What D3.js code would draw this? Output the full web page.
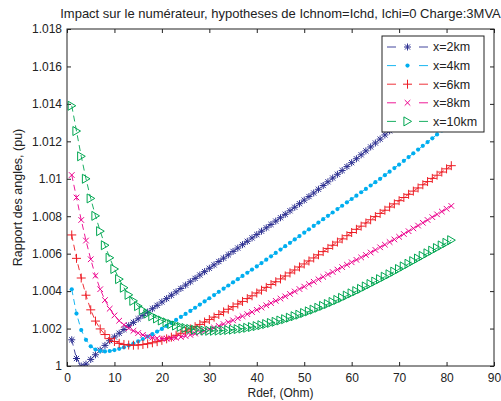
<!DOCTYPE html>
<html><head><meta charset="utf-8">
<script src="https://cdn.jsdelivr.net/npm/d3@7"></script>
<style>body{margin:0;background:#fff} text{font-family:"Liberation Sans",Arial,sans-serif}</style>
</head><body><svg id="c" width="501" height="401"></svg>
<script>
const rdef = [1,2,3,4,5,6,7,8,9,10,11,12,13,14,15,16,17,18,19,20,21,22,23,24,25,26,27,28,29,30,31,32,33,34,35,36,37,38,39,40,41,42,43,44,45,46,47,48,49,50,51,52,53,54,55,56,57,58,59,60,61,62,63,64,65,66,67,68,69,70,71,72,73,74,75,76,77,78,79,80,81];
const x2km = [1.00140,1.00040,1.00000,1.00010,1.00035,1.00060,1.00085,1.00110,1.00135,1.00155,1.00175,1.00195,1.00215,1.00233,1.00252,1.00270,1.00288,1.00306,1.00324,1.00342,1.00360,1.00378,1.00396,1.00414,1.00432,1.00450,1.00468,1.00486,1.00504,1.00522,1.00540,1.00558,1.00576,1.00594,1.00612,1.00630,1.00648,1.00666,1.00684,1.00702,1.00720,1.00738,1.00756,1.00774,1.00792,1.00810,1.00829,1.00848,1.00867,1.00886,1.00905,1.00924,1.00944,1.00964,1.00984,1.01004,1.01024,1.01044,1.01065,1.01086,1.01107,1.01128,1.01149,1.01170,1.01191,1.01212,1.01234,1.01256,1.01278,1.01300,1.01322,1.01344,1.01366,1.01388,1.01410,1.01432,1.01454,1.01476,1.01498,1.01520,1.01542];
const x4km = [1.00410,1.00280,1.00192,1.00140,1.00105,1.00088,1.00080,1.00078,1.00080,1.00085,1.00092,1.00100,1.00110,1.00120,1.00132,1.00144,1.00157,1.00170,1.00184,1.00198,1.00214,1.00230,1.00246,1.00262,1.00278,1.00294,1.00311,1.00328,1.00345,1.00362,1.00379,1.00396,1.00413,1.00430,1.00447,1.00464,1.00481,1.00498,1.00515,1.00532,1.00550,1.00568,1.00586,1.00604,1.00622,1.00640,1.00658,1.00676,1.00694,1.00712,1.00730,1.00748,1.00766,1.00784,1.00802,1.00820,1.00838,1.00856,1.00874,1.00892,1.00910,1.00928,1.00946,1.00964,1.00982,1.01000,1.01019,1.01038,1.01057,1.01076,1.01096,1.01116,1.01136,1.01156,1.01176,1.01196,1.01216,1.01237,1.01258,1.01279,1.01300];
const x6km = [1.00700,1.00575,1.00470,1.00378,1.00300,1.00240,1.00198,1.00168,1.00146,1.00131,1.00121,1.00115,1.00112,1.00111,1.00112,1.00115,1.00119,1.00124,1.00130,1.00137,1.00145,1.00154,1.00164,1.00175,1.00186,1.00198,1.00210,1.00222,1.00235,1.00248,1.00261,1.00275,1.00289,1.00303,1.00317,1.00331,1.00345,1.00360,1.00375,1.00390,1.00405,1.00420,1.00435,1.00450,1.00465,1.00481,1.00497,1.00513,1.00529,1.00545,1.00561,1.00577,1.00594,1.00611,1.00628,1.00645,1.00662,1.00679,1.00696,1.00713,1.00730,1.00747,1.00764,1.00781,1.00798,1.00815,1.00832,1.00849,1.00866,1.00883,1.00900,1.00917,1.00934,1.00951,1.00968,1.00985,1.01002,1.01019,1.01036,1.01053,1.01070];
const x8km = [1.01020,1.00900,1.00780,1.00670,1.00570,1.00482,1.00410,1.00352,1.00306,1.00270,1.00242,1.00220,1.00202,1.00188,1.00176,1.00166,1.00158,1.00152,1.00148,1.00146,1.00146,1.00148,1.00151,1.00155,1.00160,1.00166,1.00173,1.00180,1.00188,1.00196,1.00205,1.00214,1.00224,1.00234,1.00244,1.00255,1.00266,1.00277,1.00288,1.00300,1.00312,1.00324,1.00336,1.00348,1.00360,1.00372,1.00385,1.00398,1.00411,1.00424,1.00437,1.00450,1.00463,1.00476,1.00489,1.00502,1.00515,1.00528,1.00541,1.00554,1.00567,1.00580,1.00593,1.00606,1.00620,1.00634,1.00648,1.00662,1.00676,1.00690,1.00705,1.00720,1.00735,1.00750,1.00765,1.00780,1.00795,1.00810,1.00825,1.00840,1.00855];
const x10km = [1.01390,1.01255,1.01120,1.01000,1.00895,1.00802,1.00720,1.00645,1.00578,1.00518,1.00464,1.00418,1.00380,1.00348,1.00320,1.00298,1.00280,1.00266,1.00254,1.00243,1.00233,1.00224,1.00216,1.00209,1.00203,1.00198,1.00194,1.00191,1.00189,1.00188,1.00188,1.00189,1.00190,1.00192,1.00194,1.00197,1.00200,1.00204,1.00208,1.00213,1.00218,1.00224,1.00230,1.00236,1.00243,1.00250,1.00258,1.00266,1.00274,1.00283,1.00292,1.00301,1.00311,1.00321,1.00331,1.00342,1.00353,1.00364,1.00376,1.00388,1.00400,1.00412,1.00425,1.00438,1.00451,1.00464,1.00477,1.00490,1.00504,1.00518,1.00532,1.00546,1.00560,1.00574,1.00588,1.00602,1.00616,1.00630,1.00644,1.00658,1.00672];
const seriesNames = ["x=2km","x=4km","x=6km","x=8km","x=10km"];
const seriesColors = ["#2e3192","#00aeef","#ed1c24","#ec008c","#00a651"];
const seriesMarkers = ["star","dot","plus","cross","triangle"];
const xTicks = [0,10,20,30,40,50,60,70,80,90];
const yTicks = [1,1.002,1.004,1.006,1.008,1.01,1.012,1.014,1.016,1.018];
const yTickLabels = ["1","1.002","1.004","1.006","1.008","1.01","1.012","1.014","1.016","1.018"];
const titleText = "Impact sur le numérateur, hypotheses de Ichnom=Ichd, Ichi=0 Charge:3MVA";
const xLabel = "Rdef, (Ohm)";
const yLabel = "Rapport des angles, (pu)";

const allSeries = [x2km,x4km,x6km,x8km,x10km];
const svg = d3.select("#c");
const L = 67, R = 494, T = 29, B = 366;
const x = d3.scaleLinear().domain([0,90]).range([L,R]);
const y = d3.scaleLinear().domain([1,1.018]).range([B,T]);
const axisColor = "#222";
const FONT = "'Liberation Sans',Arial,sans-serif";

svg.append("rect").attr("x",L).attr("y",T).attr("width",R-L).attr("height",B-T).attr("fill","#fff");

function styleAxis(g){
  g.select(".domain").remove();
  g.selectAll(".tick line").attr("stroke",axisColor);
  g.selectAll(".tick text").attr("fill","#222").style("font-size","12px").style("font-family",FONT);
}
const gx = svg.append("g").attr("transform",`translate(0,${B})`)
  .call(d3.axisBottom(x).tickValues(xTicks).tickFormat(d3.format("d")).tickSize(-4).tickPadding(7));
styleAxis(gx);
const gy = svg.append("g").attr("transform",`translate(${L},0)`)
  .call(d3.axisLeft(y).tickValues(yTicks).tickFormat((d,i)=>yTickLabels[i]).tickSize(-4).tickPadding(5));
styleAxis(gy);
const gt = svg.append("g").attr("transform",`translate(0,${T})`)
  .call(d3.axisTop(x).tickValues(xTicks).tickFormat("").tickSize(-4));
styleAxis(gt);
const gr = svg.append("g").attr("transform",`translate(${R},0)`)
  .call(d3.axisRight(y).tickValues(yTicks).tickFormat("").tickSize(-4));
styleAxis(gr);

svg.append("defs").append("clipPath").attr("id","clip").append("rect")
  .attr("x",L).attr("y",T).attr("width",R-L).attr("height",B-T);

function marker(g, type, cx, cy, color){
  if(type==="star"){
    const s=3.5, d=2.6;
    g.append("path").attr("d",`M${cx-s},${cy}L${cx+s},${cy}M${cx},${cy-s}L${cx},${cy+s}M${cx-d},${cy-d}L${cx+d},${cy+d}M${cx-d},${cy+d}L${cx+d},${cy-d}`)
      .attr("stroke",color).attr("stroke-width",1).attr("fill","none");
  } else if(type==="dot"){
    g.append("circle").attr("cx",cx).attr("cy",cy).attr("r",2.1).attr("fill",color);
  } else if(type==="plus"){
    const s=4.5;
    g.append("path").attr("d",`M${cx-s},${cy}L${cx+s},${cy}M${cx},${cy-s}L${cx},${cy+s}`)
      .attr("stroke",color).attr("stroke-width",1).attr("fill","none");
  } else if(type==="cross"){
    const s=2.8;
    g.append("path").attr("d",`M${cx-s},${cy-s}L${cx+s},${cy+s}M${cx-s},${cy+s}L${cx+s},${cy-s}`)
      .attr("stroke",color).attr("stroke-width",1).attr("fill","none");
  } else if(type==="triangle"){
    const s=4.5;
    g.append("path").attr("d",`M${cx-s*0.8},${cy-s}L${cx+s*0.9},${cy}L${cx-s*0.8},${cy+s}Z`)
      .attr("stroke",color).attr("stroke-width",1).attr("fill","none");
  }
}

const plot = svg.append("g").attr("clip-path","url(#clip)");
const line = d3.line().x((d,i)=>x(rdef[i])).y(d=>y(d));
allSeries.forEach((vals,k)=>{
  const g = plot.append("g");
  g.append("path").datum(vals).attr("d",line).attr("fill","none")
    .attr("stroke",seriesColors[k]).attr("stroke-width",0.9).attr("stroke-dasharray","6,4");
  vals.forEach((v,i)=>marker(g, seriesMarkers[k], x(rdef[i]), y(v), seriesColors[k]));
});

// frame
svg.append("rect").attr("x",L).attr("y",T).attr("width",R-L).attr("height",B-T)
  .attr("fill","none").attr("stroke",axisColor).attr("stroke-width",1);

// legend
const lg = svg.append("g");
const lx = 382, ly = 36, lw = 102, lh = 96;
lg.append("rect").attr("x",lx).attr("y",ly).attr("width",lw).attr("height",lh)
  .attr("fill","#fff").attr("stroke",axisColor).attr("stroke-width",1);
seriesNames.forEach((n,k)=>{
  const yy = ly + 11 + k*18.6;
  [[lx+5,lx+14],[lx+37,lx+46]].forEach(s=>{
    lg.append("line").attr("x1",s[0]).attr("x2",s[1]).attr("y1",yy).attr("y2",yy)
      .attr("stroke",seriesColors[k]).attr("stroke-width",0.9);
  });
  marker(lg, seriesMarkers[k], lx+25.5, yy, seriesColors[k]);
  lg.append("text").attr("x",lx+51).attr("y",yy).attr("dy","0.35em").attr("fill","#222")
    .style("font-size","12.5px").text(n);
});

// title and labels
svg.append("text").attr("x",(L+R)/2).attr("y",13).attr("dy","0.35em").attr("text-anchor","middle")
  .attr("fill","#222").style("font-size","13px").text(titleText);
svg.append("text").attr("x",(L+R)/2).attr("y",393).attr("dy","0.35em").attr("text-anchor","middle")
  .attr("fill","#222").style("font-size","12px").text(xLabel);
svg.append("text").attr("transform",`translate(18,${(T+B)/2}) rotate(-90)`).attr("dy","0.35em").attr("text-anchor","middle")
  .attr("fill","#222").style("font-size","12.5px").text(yLabel);
</script></body></html>
